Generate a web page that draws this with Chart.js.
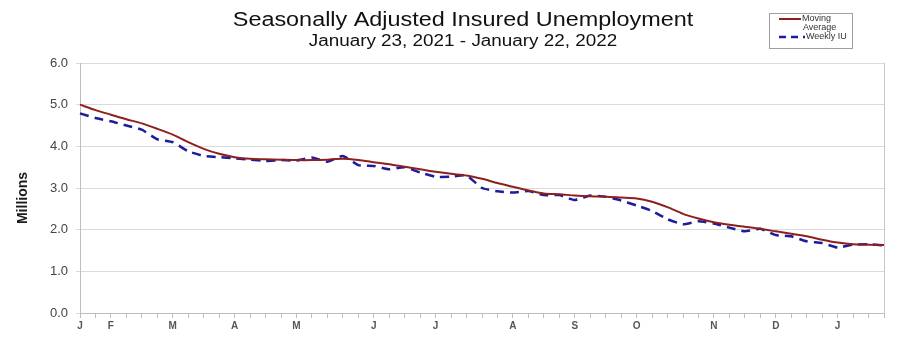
<!DOCTYPE html>
<html>
<head>
<meta charset="utf-8">
<script src="https://cdn.jsdelivr.net/npm/chart.js@4"></script>
<style>
html,body{margin:0;padding:0;background:#fff;}
#wrap{position:relative;width:911px;height:359px;}
</style>
</head>
<body>
<div id="wrap"><canvas id="c" width="911" height="359"></canvas></div>
<script>
// weeks Jan 23 2021 .. Jan 22 2022, month letter on first week of each month
const tickLabels = [
  'J','','F','','','','M','','','','A','','','','M','','','','','J','','','','J','','','','',
  'A','','','','S','','','','O','','','','','N','','','','D','','','','J','','',''
];

// millions
const movingAvg = [
  5.00,4.87,4.76,4.65,4.55,4.42,4.28,4.10,3.94,3.82,3.74,3.70,3.69,3.68,3.67,3.67,3.68,3.70,
  3.67,3.62,3.57,3.51,3.45,3.39,3.34,3.30,3.22,3.12,3.03,2.94,2.87,2.85,2.82,2.80,2.79,2.77,
  2.75,2.67,2.54,2.38,2.27,2.18,2.12,2.07,2.02,1.96,1.90,1.84,1.76,1.69,1.65,1.64,1.63
];
const weeklyIU = [
  4.79,4.68,4.60,4.50,4.40,4.17,4.10,3.88,3.77,3.74,3.71,3.68,3.65,3.67,3.66,3.73,3.63,3.77,
  3.55,3.53,3.45,3.50,3.37,3.27,3.27,3.30,3.00,2.92,2.89,2.93,2.83,2.83,2.71,2.82,2.79,2.70,
  2.58,2.45,2.25,2.13,2.20,2.15,2.05,1.96,2.02,1.87,1.84,1.72,1.68,1.57,1.64,1.65,1.62
];

const yTicks = [0, 1, 2, 3, 4, 5, 6];

const RED = '#8e1f1f';
const BLUE = '#1c1c9c';
const FONT = "'Liberation Sans', Arial, sans-serif";

// text stretched a bit wider, like the original picture
function wideText(ctx, txt, x, y, sx) {
  ctx.save();
  ctx.translate(x, y);
  ctx.scale(sx, 1);
  ctx.fillText(txt, 0, 0);
  ctx.restore();
}

// title, subtitle, axis title, small legend box and right frame
const decor = {
  id: 'decor',
  afterDraw(chart) {
    const ctx = chart.ctx;
    const a = chart.chartArea;
    ctx.save();
    ctx.strokeStyle = '#c8c8c8';
    ctx.lineWidth = 1;
    ctx.beginPath();
    ctx.moveTo(Math.round(a.right) + 0.5, a.top);
    ctx.lineTo(Math.round(a.right) + 0.5, a.bottom);
    ctx.stroke();

    ctx.fillStyle = '#111';
    ctx.textAlign = 'center';
    ctx.textBaseline = 'middle';
    ctx.font = '20px ' + FONT;
    wideText(ctx, 'Seasonally Adjusted Insured Unemployment', 463, 20, 1.17);
    ctx.font = '16px ' + FONT;
    wideText(ctx, 'January 23, 2021 - January 22, 2022', 463, 42, 1.18);

    ctx.save();
    ctx.translate(23, 198);
    ctx.rotate(-Math.PI / 2);
    ctx.font = 'bold 14px ' + FONT;
    ctx.fillStyle = '#1a1a1a';
    ctx.fillText('Millions', 0, 0);
    ctx.restore();

    // legend
    ctx.strokeStyle = '#a0a0a0';
    ctx.strokeRect(769.5, 13.5, 83, 35);
    ctx.lineWidth = 2;
    ctx.strokeStyle = RED;
    ctx.beginPath(); ctx.moveTo(779, 19); ctx.lineTo(801, 19); ctx.stroke();
    ctx.strokeStyle = BLUE;
    ctx.lineWidth = 2.5;
    ctx.setLineDash([7, 5]);
    ctx.beginPath(); ctx.moveTo(779, 37); ctx.lineTo(805, 37); ctx.stroke();
    ctx.setLineDash([]);
    ctx.fillStyle = '#333';
    ctx.textAlign = 'left';
    ctx.font = '9px ' + FONT;
    ctx.fillText('Moving', 802, 19);
    ctx.fillText('Average', 803, 28);
    ctx.fillText('Weekly IU', 806, 37);
    ctx.restore();
  }
};

new Chart(document.getElementById('c'), {
  type: 'line',
  data: {
    labels: tickLabels,
    datasets: [
      {
        label: 'Moving Average',
        data: movingAvg,
        borderColor: RED,
        borderWidth: 2,
        pointRadius: 0,
        tension: 0.25
      },
      {
        label: 'Weekly IU',
        data: weeklyIU,
        borderColor: BLUE,
        borderWidth: 2.5,
        borderDash: [9, 6],
        pointRadius: 0,
        tension: 0.15
      }
    ]
  },
  options: {
    responsive: false,
    animation: false,
    layout: { padding: { left: 0, right: 27, top: 63, bottom: 26 } },
    plugins: {
      legend: { display: false },
      title: { display: false },
      tooltip: { enabled: false }
    },
    scales: {
      x: {
        offset: false,
        grid: { drawOnChartArea: false, tickLength: 5, color: '#bdbdbd' },
        border: { color: '#bdbdbd' },
        ticks: {
          autoSkip: false, maxRotation: 0, padding: 2,
          color: '#555', font: { family: FONT, size: 10, weight: 'bold' }
        },
        afterFit(s) { s.height = 20; }
      },
      y: {
        min: 0, max: 6,
        afterBuildTicks(s) { s.ticks = yTicks.map(v => ({ value: v })); },
        grid: { color: '#dadada', tickLength: 4 },
        border: { color: '#bdbdbd' },
        ticks: {
          padding: 8, color: '#444',
          font: { family: FONT, size: 13 },
          callback: v => v.toFixed(1)
        },
        afterFit(s) { s.width = 80; }
      }
    }
  },
  plugins: [decor]
});
</script>
</body>
</html>
